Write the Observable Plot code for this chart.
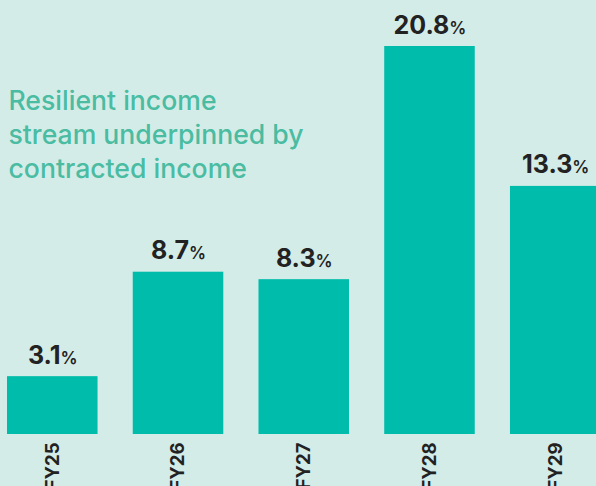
<!DOCTYPE html>
<html>
<head>
<meta charset="utf-8">
<script src="https://cdn.jsdelivr.net/npm/d3@7"></script>
<script src="https://cdn.jsdelivr.net/npm/@observablehq/plot@0.6"></script>
<style>
  html, body { margin: 0; padding: 0; background: #d4ece8; overflow: hidden; }
  #chart svg { display: block; }
</style>
</head>
<body>
<div id="chart"></div>
<script>
const categories = ["FY25", "FY26", "FY27", "FY28", "FY29"];
const values = [3.1, 8.7, 8.3, 20.8, 13.3];
const titleLines = ["Resilient income", "stream underpinned by", "contracted income"];

const data = categories.map((c, i) => ({ year: c, value: values[i] }));
const FONT = "Inter, Lato, 'DejaVu Sans', sans-serif";

const chart = Plot.plot({
  width: 596,
  height: 486,
  marginTop: 0,
  marginLeft: 0,
  marginRight: 0,
  marginBottom: 52,
  style: { background: "#d4ece8", fontFamily: FONT, color: "#222" },
  x: { type: "band", domain: categories, range: [7, 600.5], paddingInner: 0.28, paddingOuter: 0, align: 0, round: false, axis: null },
  y: { domain: [0, 20.8], range: [434, 46], axis: null },
  marks: [
    Plot.barY(data, { x: "year", y: "value", fill: "#00bcaa" }),
    Plot.text(data, {
      x: "year", y: "value", text: d => d.value.toFixed(1) + "%",
      dy: -13, lineAnchor: "bottom", fontSize: 25, fontWeight: 700, fill: "#222"
    }),
    Plot.axisX({
      label: null, tickSize: 0, tickPadding: 8, tickRotate: -90, textAnchor: "end", lineAnchor: "middle",
      fontSize: 18.5, fontWeight: 700, fill: "#222"
    }),
    Plot.text([titleLines.join("\n")], {
      frameAnchor: "top-left", textAnchor: "start", lineAnchor: "top",
      dx: 8, dy: 85, lineHeight: 1.28, fontSize: 26.6, fontWeight: 500, fill: "#4abca2"
    })
  ]
});

// make the "%" sign smaller, as in the reference
d3.select(chart).selectAll("text").each(function () {
  const t = this.textContent;
  if (this.childElementCount === 0 && /^\d+\.\d%$/.test(t)) {
    const sel = d3.select(this);
    sel.text(null);
    sel.append("tspan").text(t.slice(0, -1));
    sel.append("tspan").attr("font-size", 17).attr("font-weight", 600).text("%");
  }
});

document.getElementById("chart").appendChild(chart);
</script>
</body>
</html>
